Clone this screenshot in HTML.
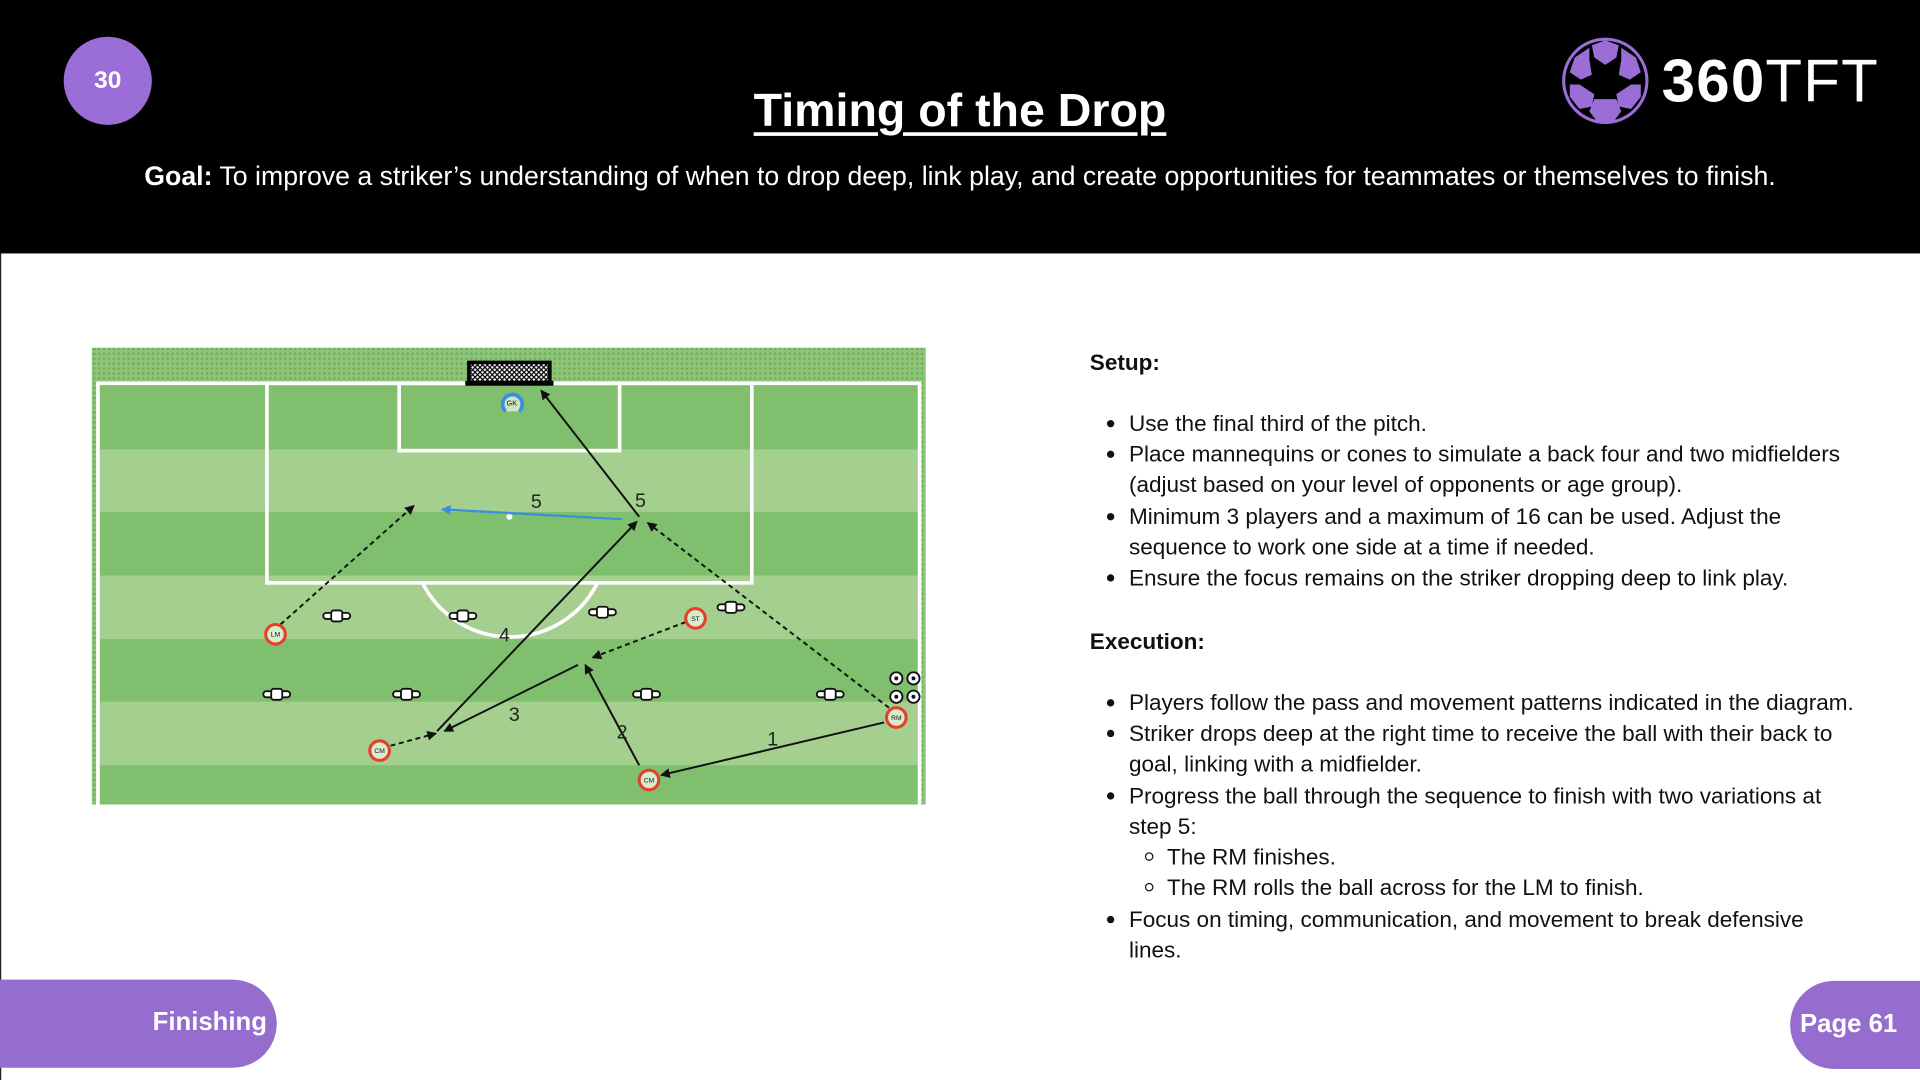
<!DOCTYPE html>
<html><head><meta charset="utf-8"><style>
html,body{margin:0;padding:0;width:1920px;height:1080px;overflow:hidden;background:#fff;font-family:"Liberation Sans",sans-serif}
#w{position:absolute;left:0;top:0;width:1568px;height:882px;transform:scale(1.22449);transform-origin:0 0}
.hd{position:absolute;left:0;top:0;width:1568px;height:207px;background:#000}
.num{position:absolute;left:52px;top:30px;width:72px;height:72px;border-radius:50%;background:#9a6ed6;color:#fff;font-weight:bold;font-size:20px;line-height:72px;text-align:center}
.title{position:absolute;left:0;width:1568px;top:70px;text-align:center;color:#fff;font-weight:bold;font-size:38px;text-decoration:underline;text-decoration-thickness:3px;text-underline-offset:5px}
.goal{position:absolute;left:0;width:1568px;top:131px;text-align:center;color:#fff;font-size:21.8px}
.logo{position:absolute;left:1357px;top:38px;color:#fff;font-size:49px;line-height:58px;letter-spacing:1px}
.txt{position:absolute;left:890px;font-size:18.4px;color:#111;white-space:nowrap}
.b{font-weight:bold}
.li{position:absolute;left:922px;font-size:18.4px;color:#111;white-space:nowrap}
.dot{position:absolute;left:904px;width:6px;height:6px;border-radius:50%;background:#111}
.sdot{position:absolute;left:935px;width:5px;height:5px;border-radius:50%;border:1px solid #111}
.tabl{position:absolute;left:0;top:800px;width:226px;height:72px;background:#956dcf;border-radius:0 36px 36px 0}
.tabr{position:absolute;left:1462px;top:801px;width:120px;height:72px;background:#956dcf;border-radius:36px 0 0 36px}
</style></head><body><div id="w">
<div class="hd"></div>
<div style="position:absolute;left:0;top:207px;width:1px;height:675px;background:#222"></div>
<div class="num">30</div>
<div class="title">Timing of the Drop</div>
<div class="goal"><b>Goal:</b> To improve a striker’s understanding of when to drop deep, link play, and create opportunities for teammates or themselves to finish.</div>
<svg style="position:absolute;left:1274px;top:29px" width="74" height="74" viewBox="0 0 74 74">
<circle cx="37" cy="37" r="34" fill="#000" stroke="#9a6ed6" stroke-width="2.5"/>
<polygon points="37,25 48,33 44,46 30,46 26,33" fill="#000"/>
<polygon points="26,8 37,4 48,8 46,18 37,24 28,18" fill="#9a6ed6"/>
<polygon points="50,10 62,18 66,30 57,36 48,32 50,20" fill="#9a6ed6"/>
<polygon points="24,10 12,18 8,30 17,36 26,32 24,20" fill="#9a6ed6"/>
<polygon points="8,40 16,40 28,48 26,58 16,60 8,50" fill="#9a6ed6"/>
<polygon points="66,40 58,40 46,48 48,58 58,60 66,50" fill="#9a6ed6"/>
<polygon points="28,52 46,52 50,62 44,70 30,70 24,62" fill="#9a6ed6"/>
</svg>
<div class="logo"><b>360</b>TFT</div>

<svg style="position:absolute;left:0;top:0" width="1568" height="882" viewBox="0 0 1568 882">
<defs>
<pattern id="dots" width="4" height="4" patternUnits="userSpaceOnUse"><rect width="4" height="4" fill="#8fc57a"/><rect width="2" height="2" fill="#6fb05c"/></pattern>
<pattern id="net" width="4" height="4" patternUnits="userSpaceOnUse"><rect width="4" height="4" fill="#fff"/><path d="M0 0L4 4M4 0L0 4" stroke="#000" stroke-width="1"/></pattern>
<marker id="ah" markerWidth="8" markerHeight="8" refX="7" refY="4" orient="auto" markerUnits="userSpaceOnUse"><path d="M0,0 L8,4 L0,8 z" fill="#111"/></marker>
<marker id="ab" markerWidth="8" markerHeight="8" refX="7" refY="4" orient="auto" markerUnits="userSpaceOnUse"><path d="M0,0 L8,4 L0,8 z" fill="#3a8ee0"/></marker>
</defs>
<rect x="75" y="284" width="681" height="373" fill="url(#dots)"/>
<rect x="80" y="313" width="671" height="344" fill="#7fbf6d"/>
<rect x="80" y="367" width="671" height="51" fill="#a5cf8e"/>
<rect x="80" y="470" width="671" height="52" fill="#a5cf8e"/>
<rect x="80" y="573" width="671" height="52" fill="#a5cf8e"/>
<g fill="none" stroke="#fff" stroke-width="3">
<rect x="80" y="313" width="671" height="346"/>
<rect x="218" y="313" width="396" height="163"/>
<rect x="326" y="313" width="180" height="55"/>
<path d="M345 476 A80 80 0 0 0 488 476"/>
</g>
<rect x="383" y="296" width="66" height="17" fill="url(#net)" stroke="#000" stroke-width="3"/>
<rect x="380" y="311" width="72" height="4" fill="#000"/>
<circle cx="416" cy="422" r="2.5" fill="#fff"/>
<path d="M413 336 A8 8 0 1 1 424 336" fill="#cfe6c4" stroke="#3a8ee0" stroke-width="3"/>
<text x="418" y="331" font-size="6" text-anchor="middle" font-family="Liberation Sans" fill="#111">GK</text>
<g fill="#fff" stroke="#111" stroke-width="1.5">
<g transform="translate(275,503)"><rect x="-11" y="-2.5" width="22" height="5" rx="2.5"/><rect x="-4.5" y="-4.5" width="9" height="9" rx="2"/></g>
<g transform="translate(378,503)"><rect x="-11" y="-2.5" width="22" height="5" rx="2.5"/><rect x="-4.5" y="-4.5" width="9" height="9" rx="2"/></g>
<g transform="translate(492,500)"><rect x="-11" y="-2.5" width="22" height="5" rx="2.5"/><rect x="-4.5" y="-4.5" width="9" height="9" rx="2"/></g>
<g transform="translate(597,496)"><rect x="-11" y="-2.5" width="22" height="5" rx="2.5"/><rect x="-4.5" y="-4.5" width="9" height="9" rx="2"/></g>
<g transform="translate(226,567)"><rect x="-11" y="-2.5" width="22" height="5" rx="2.5"/><rect x="-4.5" y="-4.5" width="9" height="9" rx="2"/></g>
<g transform="translate(332,567)"><rect x="-11" y="-2.5" width="22" height="5" rx="2.5"/><rect x="-4.5" y="-4.5" width="9" height="9" rx="2"/></g>
<g transform="translate(528,567)"><rect x="-11" y="-2.5" width="22" height="5" rx="2.5"/><rect x="-4.5" y="-4.5" width="9" height="9" rx="2"/></g>
<g transform="translate(678,567)"><rect x="-11" y="-2.5" width="22" height="5" rx="2.5"/><rect x="-4.5" y="-4.5" width="9" height="9" rx="2"/></g>
</g>
<g fill="#fff" stroke="#111" stroke-width="1.5">
<circle cx="732" cy="554" r="5"/><circle cx="746" cy="554" r="5"/><circle cx="732" cy="569" r="5"/><circle cx="746" cy="569" r="5"/>
</g>
<g fill="#111"><circle cx="732" cy="554" r="1.6"/><circle cx="746" cy="554" r="1.6"/><circle cx="732" cy="569" r="1.6"/><circle cx="746" cy="569" r="1.6"/></g>
<g stroke="#111" stroke-width="1.6" fill="none">
<line x1="522" y1="422" x2="442" y2="319" marker-end="url(#ah)"/>
<line x1="357" y1="597" x2="520" y2="426" marker-end="url(#ah)"/>
<line x1="472" y1="543" x2="363" y2="597" marker-end="url(#ah)"/>
<line x1="522" y1="625" x2="478" y2="543" marker-end="url(#ah)"/>
<line x1="722" y1="590" x2="540" y2="633" marker-end="url(#ah)"/>
<g stroke-dasharray="4,3">
<line x1="229" y1="510" x2="338" y2="413" marker-end="url(#ah)"/>
<line x1="560" y1="508" x2="484" y2="537" marker-end="url(#ah)"/>
<line x1="319" y1="609" x2="356" y2="599" marker-end="url(#ah)"/>
<line x1="726" y1="578" x2="529" y2="427" marker-end="url(#ah)"/>
</g>
</g>
<line x1="508" y1="424" x2="361" y2="416" stroke="#3a8ee0" stroke-width="1.8" marker-end="url(#ab)"/>
<g font-family="Liberation Sans" font-size="16" fill="#222" text-anchor="middle">
<text x="438" y="415">5</text><text x="523" y="414">5</text><text x="412" y="524">4</text><text x="420" y="589">3</text><text x="508" y="603">2</text><text x="631" y="609">1</text>
</g>
<g fill="#d8ebcc" stroke="#e53e2a" stroke-width="2.5">
<circle cx="225" cy="518" r="8"/><circle cx="568" cy="505" r="8"/><circle cx="310" cy="613" r="8"/><circle cx="530" cy="637" r="8"/><circle cx="732" cy="586" r="8"/>
</g>
<g font-family="Liberation Sans" font-size="5.5" fill="#111" text-anchor="middle">
<text x="225" y="520">LM</text><text x="568" y="507">ST</text><text x="310" y="615">CM</text><text x="530" y="639">CM</text><text x="732" y="588">RM</text>
</g>
</svg>

<div class="txt b" style="top:285px">Setup:</div>
<div class="dot" style="top:343px"></div><div class="li" style="top:335px">Use the final third of the pitch.</div>
<div class="dot" style="top:368px"></div><div class="li" style="top:360px">Place mannequins or cones to simulate a back four and two midfielders</div>
<div class="li" style="top:385px">(adjust based on your level of opponents or age group).</div>
<div class="dot" style="top:419px"></div><div class="li" style="top:411px">Minimum 3 players and a maximum of 16 can be used. Adjust the</div>
<div class="li" style="top:436px">sequence to work one side at a time if needed.</div>
<div class="dot" style="top:469px"></div><div class="li" style="top:461px">Ensure the focus remains on the striker dropping deep to link play.</div>
<div class="txt b" style="top:513px">Execution:</div>
<div class="dot" style="top:571px"></div><div class="li" style="top:563px">Players follow the pass and movement patterns indicated in the diagram.</div>
<div class="dot" style="top:596px"></div><div class="li" style="top:588px">Striker drops deep at the right time to receive the ball with their back to</div>
<div class="li" style="top:613px">goal, linking with a midfielder.</div>
<div class="dot" style="top:647px"></div><div class="li" style="top:639px">Progress the ball through the sequence to finish with two variations at</div>
<div class="li" style="top:664px">step 5:</div>
<div class="sdot" style="top:696px"></div><div class="li" style="left:953px;top:689px">The RM finishes.</div>
<div class="sdot" style="top:721px"></div><div class="li" style="left:953px;top:714px">The RM rolls the ball across for the LM to finish.</div>
<div class="dot" style="top:748px"></div><div class="li" style="top:740px">Focus on timing, communication, and movement to break defensive</div>
<div class="li" style="top:765px">lines.</div>

<div class="tabl"><div style="position:absolute;right:8px;top:23px;color:#fff;font-weight:bold;font-size:21px">Finishing</div></div>
<div class="tabr"><div style="position:absolute;left:8px;top:24px;color:#fff;font-weight:bold;font-size:21px">Page 61</div></div>
</div></body></html>
